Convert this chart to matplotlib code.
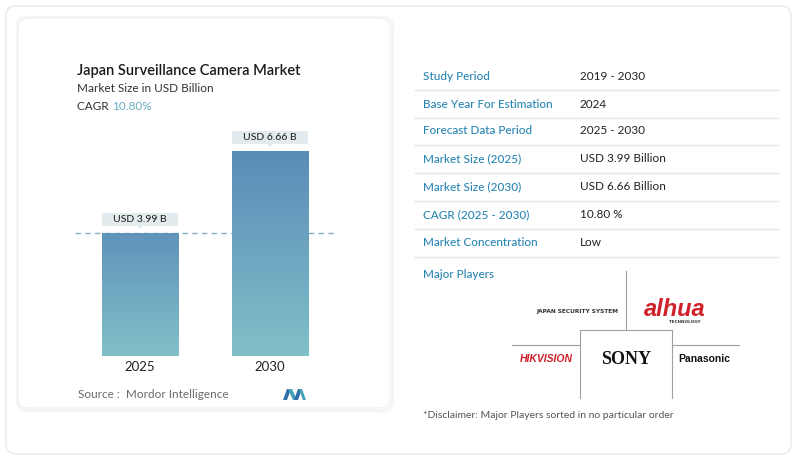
import matplotlib
matplotlib.use("Agg")
import matplotlib.pyplot as plt
import numpy as np
from matplotlib.patches import FancyBboxPatch, Polygon, Rectangle
from matplotlib.lines import Line2D

# ---- data ----
years = ["2025", "2030"]
values = [3.99, 6.66]
value_labels = ["USD 3.99 B", "USD 6.66 B"]
title = "Japan Surveillance Camera Market"
subtitle = "Market Size in USD Billion"
cagr = "10.80%"
source = "Source :  Mordor Intelligence"
table_labels = ["Study Period", "Base Year For Estimation", "Forecast Data Period",
                "Market Size (2025)", "Market Size (2030)", "CAGR (2025 - 2030)",
                "Market Concentration"]
table_values = ["2019 - 2030", "2024", "2025 - 2030", "USD 3.99 Billion",
                "USD 6.66 Billion", "10.80 %", "Low"]
players_title = "Major Players"
disclaimer = "*Disclaimer: Major Players sorted in no particular order"

W, H = 799, 462
fig = plt.figure(figsize=(W / 100, H / 100), dpi=100)
fig.patch.set_facecolor("white")

ov = fig.add_axes([0, 0, 1, 1])
ov.set_xlim(0, W)
ov.set_ylim(H, 0)
ov.axis("off")

FONT = "Lato"

# outer card
ov.add_patch(FancyBboxPatch((6, 6), W - 14, H - 14, boxstyle="round,pad=0,rounding_size=10",
                            fc="white", ec="#ececec", lw=1.2, zorder=0))
# left card with soft shadow
for i, a in enumerate([0.03, 0.02, 0.012]):
    ov.add_patch(FancyBboxPatch((18 - i, 18 - i), 372 + 2 * i + 2, 390 + 2 * i + 2,
                                boxstyle="round,pad=0,rounding_size=10",
                                fc="none", ec=(0, 0, 0, a), lw=1.5, zorder=0.5))
ov.add_patch(FancyBboxPatch((18, 18), 372, 390, boxstyle="round,pad=0,rounding_size=10",
                            fc="white", ec="#f0f0f0", lw=0.8, zorder=1))

# titles
ov.text(77, 71, title, fontsize=10.5, fontfamily=FONT, fontweight="semibold",
        color="#1a1a1a", va="center", zorder=3)
ov.text(77, 89, subtitle, fontsize=8.5, fontfamily=FONT, color="#333333", va="center", zorder=3)
t = ov.text(77, 106, "CAGR ", fontsize=8.5, fontfamily=FONT, color="#333333", va="center", zorder=3)
ov.annotate(cagr, xycoords=t, xy=(1, 0), va="bottom", fontsize=8.5, fontfamily=FONT,
            color="#6aaac0", zorder=3)

# ---- bar chart axes ----
ax_l, ax_r, ax_b, ax_t = 75, 335, 356, 130
PX = 30.8  # pixels per unit
ax = fig.add_axes([ax_l / W, (H - ax_b) / H, (ax_r - ax_l) / W, (ax_b - ax_t) / H])
ax.set_zorder(2)
ax.patch.set_alpha(0)
ymax = (ax_b - ax_t) / PX
ax.set_xlim(-0.5, 1.5)
ax.set_ylim(0, ymax)
ax.axis("off")

bw = 0.585
top_c = np.array([0x5a, 0x8c, 0xb8]) / 255
bot_c = np.array([0x80, 0xc0, 0xc8]) / 255
grad = np.linspace(0, 1, 256)[:, None]
box_c = "#e3ebef"
for i, v in enumerate(values):
    rect = Rectangle((i - bw / 2, 0), bw, v, fc="none", ec="none")
    ax.add_patch(rect)
    cols = np.zeros((256, 1, 3))
    for k in range(3):
        cols[:, 0, k] = bot_c[k] + (top_c[k] - bot_c[k]) * grad[:, 0] * (v / max(values)) ** 0.3
    im = ax.imshow(cols, extent=(i - bw / 2, i + bw / 2, 0, v), origin="lower",
                   aspect="auto", zorder=2)
    im.set_clip_path(rect)
    # label box
    yc = v + 13.5 / PX
    bh = 13 / PX
    ax.add_patch(Rectangle((i - bw / 2, yc - bh / 2), bw, bh, fc=box_c, ec="none", zorder=3))
    ax.add_patch(Polygon([[i - 0.02, yc - bh / 2], [i + 0.02, yc - bh / 2],
                          [i, yc - bh / 2 - 3 / PX]], closed=True, fc=box_c, ec="none", zorder=3))
    ax.text(i, yc, value_labels[i], ha="center", va="center", fontsize=7.5,
            fontfamily=FONT, fontweight="medium", color="#222222", zorder=4)
    ax.text(i, -11 / PX, years[i], ha="center", va="center", fontsize=9.5,
            fontfamily=FONT, color="#222222", clip_on=False)

ax.axhline(values[0], color="#8aaebd", lw=1.0, ls=(0, (4, 3)), zorder=1.5)

ax.set_xlim(-0.5, 1.5)
ax.set_ylim(0, ymax)

ov.text(78, 395, source, fontsize=8.5, fontfamily=FONT, color="#6b6b6b", va="center", zorder=3)
# small logo
ov.add_patch(Polygon([[283, 400], [287, 389], [291, 389], [287, 400]], fc="#2f6fa8", ec="none", zorder=3))
ov.add_patch(Polygon([[288, 389], [293, 400], [297, 400], [292, 389]], fc="#3fa0b8", ec="none", zorder=3))
ov.add_patch(Polygon([[294, 400], [298, 389], [302, 389], [298, 400]], fc="#2f6fa8", ec="none", zorder=3))
ov.add_patch(Polygon([[299, 389], [303, 400], [306, 400], [302, 389]], fc="#3fa0b8", ec="none", zorder=3))

# ---- right table ----
row_y = [76, 104, 131, 159, 187, 215, 243]
for i, (lab, val) in enumerate(zip(table_labels, table_values)):
    ov.text(423, row_y[i], lab, fontsize=8.5, fontfamily=FONT, fontweight="medium",
            color="#2a86b3", va="center", zorder=3)
    ov.text(580, row_y[i], val, fontsize=8.5, fontfamily=FONT, color="#222222",
            va="center", zorder=3)
    ov.add_line(Line2D([415, 778], [row_y[i] + 14, row_y[i] + 14], color="#e4e4e4", lw=1.0, zorder=2))

ov.text(423, 275, players_title, fontsize=8.5, fontfamily=FONT, fontweight="medium",
        color="#2a86b3", va="center", zorder=3)

# logo grid
gc = "#a0a0a0"
ov.add_line(Line2D([625.5, 625.5], [271, 330], color=gc, lw=0.8, zorder=2))
ov.add_line(Line2D([512, 580], [345, 345], color=gc, lw=0.8, zorder=2))
ov.add_line(Line2D([672, 739], [345, 345], color=gc, lw=0.8, zorder=2))
ov.add_line(Line2D([580, 672, 672], [330, 330, 398], color=gc, lw=0.8, zorder=2))
ov.add_line(Line2D([580, 580], [330, 398], color=gc, lw=0.8, zorder=2))

ov.text(577, 311, "JAPAN SECURITY SYSTEM", fontsize=4.2, fontfamily="DejaVu Sans",
        fontweight="bold", color="#333333", ha="center", va="center", zorder=3)
ov.text(675, 309, "alhua", fontsize=17, fontfamily="Liberation Sans", fontweight="bold",
        fontstyle="italic", color="#d0202a", ha="center", va="center", zorder=3)
ov.text(685, 322, "TECHNOLOGY", fontsize=3, fontfamily="DejaVu Sans", fontweight="bold",
        color="#333333", ha="center", va="center", zorder=3)
ov.text(546, 359, "HIKVISION", fontsize=7.5, fontfamily="Liberation Sans", fontweight="bold",
        fontstyle="italic", color="#d0202a", ha="center", va="center", zorder=3)
ov.text(626, 359, "SONY", fontsize=13, fontfamily="Liberation Serif", fontweight="bold",
        color="#111111", ha="center", va="center", zorder=3)
ov.text(704, 359, "Panasonic", fontsize=7.5, fontfamily="Liberation Sans", fontweight="bold",
        color="#111111", ha="center", va="center", zorder=3)

ov.text(423, 415, disclaimer, fontsize=7.5, fontfamily=FONT, color="#555555", va="center", zorder=3)

fig.savefig("out.png", dpi=100, facecolor="white")
